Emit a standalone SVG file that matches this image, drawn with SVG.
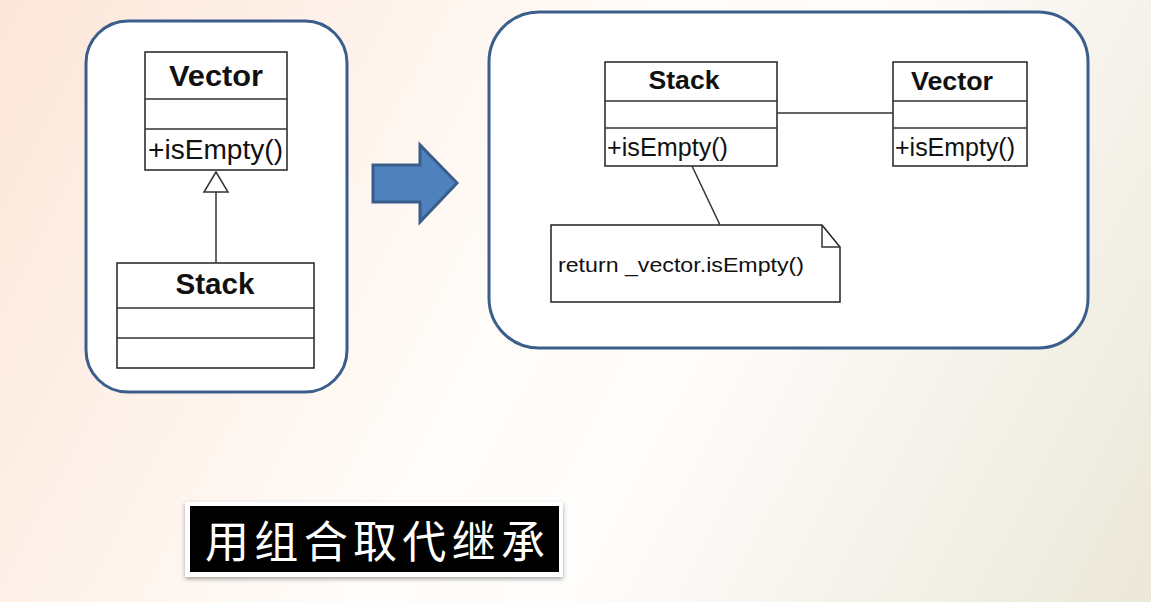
<svg xmlns="http://www.w3.org/2000/svg" width="1151" height="602" viewBox="0 0 1151 602">
<defs>
<linearGradient id="bg" gradientUnits="userSpaceOnUse" x1="0" y1="0" x2="1151" y2="602">
<stop offset="0" stop-color="#fce6d8"/>
<stop offset="0.45" stop-color="#fffcf9"/>
<stop offset="0.6" stop-color="#fefdfb"/>
<stop offset="1" stop-color="#ebe7d9"/>
</linearGradient>
<filter id="sh" x="-10%" y="-20%" width="120%" height="150%">
<feDropShadow dx="0" dy="2" stdDeviation="2" flood-color="#000" flood-opacity="0.35"/>
</filter>
</defs>
<style>
.panel{fill:#ffffff;stroke:#3b5e8c;stroke-width:3}
.cls{fill:#ffffff;stroke:#222;stroke-width:1.5}
.ln{stroke:#333;stroke-width:1.5;fill:none}
.title{font-family:"Liberation Sans",Arial,sans-serif;font-weight:bold;fill:#111}
.op{font-family:"Liberation Sans",Arial,sans-serif;fill:#111}
.cn{font-family:"Noto Sans CJK SC",sans-serif;fill:#fff}
</style>
<rect width="1151" height="602" fill="url(#bg)"/>

<g id="left-panel">
<rect class="panel" x="86" y="21" width="261" height="371" rx="42"/>
</g>
<g id="right-panel">
<rect class="panel" x="489" y="12" width="599" height="336" rx="50"/>
</g>

<g id="left-vector">
<rect class="cls" x="145" y="52" width="142" height="118"/>
<line class="ln" x1="145" y1="99" x2="287" y2="99"/>
<line class="ln" x1="145" y1="129" x2="287" y2="129"/>
<text class="title" x="216" y="86" font-size="29" text-anchor="middle" textLength="94" lengthAdjust="spacingAndGlyphs">Vector</text>
<text class="op" x="148" y="159" font-size="27" textLength="135" lengthAdjust="spacingAndGlyphs">+isEmpty()</text>
</g>

<g id="left-stack">
<rect class="cls" x="117" y="263" width="197" height="105"/>
<line class="ln" x1="117" y1="308" x2="314" y2="308"/>
<line class="ln" x1="117" y1="338" x2="314" y2="338"/>
<text class="title" x="215" y="294" font-size="29" text-anchor="middle" textLength="79" lengthAdjust="spacingAndGlyphs">Stack</text>
</g>

<g id="arrow">
<polygon points="373,165 420,165 420,145 457,183 420,222 420,202 373,202" fill="#4f81bd" stroke="#385d8a" stroke-width="3" stroke-linejoin="miter"/>
</g>

<g id="right-stack">
<rect class="cls" x="605" y="62" width="172" height="104"/>
<line class="ln" x1="605" y1="101" x2="777" y2="101"/>
<line class="ln" x1="605" y1="128" x2="777" y2="128"/>
<text class="title" x="684" y="89" font-size="26" text-anchor="middle" textLength="71" lengthAdjust="spacingAndGlyphs">Stack</text>
<text class="op" x="607" y="156" font-size="25" textLength="121" lengthAdjust="spacingAndGlyphs">+isEmpty()</text>
</g>

<g id="right-vector">
<rect class="cls" x="893" y="62" width="134" height="104"/>
<line class="ln" x1="893" y1="101" x2="1027" y2="101"/>
<line class="ln" x1="893" y1="128" x2="1027" y2="128"/>
<text class="title" x="911" y="90" font-size="26" textLength="82" lengthAdjust="spacingAndGlyphs">Vector</text>
<text class="op" x="895" y="156" font-size="25" textLength="120" lengthAdjust="spacingAndGlyphs">+isEmpty()</text>
</g>

<g id="note">
<polygon class="cls" points="551,225 822,225 840,247 840,302 551,302"/>
<polyline class="ln" points="822,225 822,247 840,247"/>
<text class="op" x="558" y="272" font-size="21" textLength="246" lengthAdjust="spacingAndGlyphs">return _vector.isEmpty()</text>
</g>

<g id="connectors">
<line class="ln" x1="216" y1="192" x2="216" y2="263"/>
<polygon points="216,172 204,192 228,192" fill="#fff" stroke="#333" stroke-width="1.5"/>
<line class="ln" x1="777" y1="113" x2="893" y2="113"/>
<line class="ln" x1="692" y1="166" x2="720" y2="225"/>
</g>

<g id="caption">
<rect x="185" y="502" width="378" height="75" fill="#ffffff" filter="url(#sh)"/>
<rect x="190" y="506" width="369" height="66" fill="#000000"/>
<text class="cn" x="375" y="558" font-size="44" text-anchor="middle" textLength="340" lengthAdjust="spacing">用组合取代继承</text>
</g>
</svg>
